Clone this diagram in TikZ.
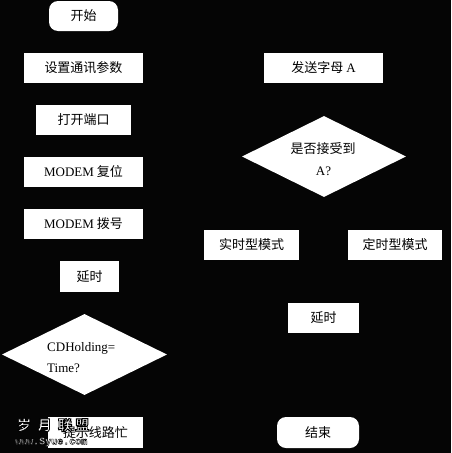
\documentclass[tikz,border=0pt]{standalone}
\usepackage{fontspec}
\setmainfont{Liberation Serif}
\setmonofont{Liberation Mono}
\newfontfamily\cjk{Noto Sans CJK SC}
\usetikzlibrary{shapes.geometric}
\definecolor{bg}{HTML}{050505}
\newcommand{\outlinedtext}[2][0.9]{\special{pdf:code q 2 Tr #1 w 0 G}#2\special{pdf:code Q}}
\tikzset{
  x=1pt, y=-1pt,
  box/.style={fill=white, inner sep=0pt, font=\fontsize{13}{15}\selectfont\cjk, text=black},
  term/.style={box, rounded corners=9pt},
  dec/.style={diamond, fill=white, inner sep=0pt, text=black, aspect=2},
  wm/.style={inner sep=0pt, anchor=west, text=white},
}
\begin{document}
\begin{tikzpicture}
\fill[bg] (0,0) rectangle (451,453);
\useasboundingbox (0,0) rectangle (451,453);
% left column
\node[term, minimum width=69pt, minimum height=30pt] (start) at (83.5,16) {开始};
\node[box, minimum width=119pt, minimum height=30pt] (param) at (83.5,68) {设置通讯参数};
\node[box, minimum width=95pt, minimum height=30pt] (open) at (83.5,120) {打开端口};
\node[box, minimum width=119pt, minimum height=30pt] (reset) at (83.5,172) {{\rmfamily MODEM} 复位};
\node[box, minimum width=119pt, minimum height=30pt] (dial) at (83.5,224) {{\rmfamily MODEM} 拨号};
\node[box, minimum width=59pt, minimum height=31pt] (delayL) at (89.5,276.5) {延时};
\node[dec, minimum width=165pt, minimum height=81pt] (cd) at (84.5,354.5) {};
\node[inner sep=0pt, anchor=west, font=\fontsize{13}{15}\selectfont, text=black] (cdt1) at (47,348) {CDHolding=};
\node[inner sep=0pt, anchor=west, font=\fontsize{13}{15}\selectfont, text=black] (cdt2) at (47,368.5) {Time?};
\node[box, minimum width=95pt, minimum height=31pt] (busy) at (95.5,432.5) {提示线路忙};
% right column
\node[box, minimum width=119pt, minimum height=30pt] (send) at (323.5,68) {发送字母 {\rmfamily A}};
\node[dec, minimum width=164pt, minimum height=81pt] (recv) at (324,156.5) {};
\node[inner sep=0pt, font=\fontsize{13}{15}\selectfont\cjk, text=black] (rt1) at (323,149) {是否接受到};
\node[inner sep=0pt, font=\fontsize{13}{15}\selectfont, text=black] (rt2) at (323.5,171) {A?};
\node[box, minimum width=95pt, minimum height=30pt] (real) at (251.5,245) {实时型模式};
\node[box, minimum width=94pt, minimum height=30pt] (timed) at (395,245) {定时型模式};
\node[box, minimum width=71pt, minimum height=30pt] (delayR) at (323.5,318) {延时};
\node[term, minimum width=82pt, minimum height=31pt] (end) at (318,432.5) {结束};
% watermark
\node[wm, font=\fontsize{14}{16}\selectfont\cjk\bfseries] (wa) at (17,425) {\outlinedtext{岁\ \ 月\ \ 联\ 盟}};
\node[wm, font=\fontsize{10}{12}\selectfont\ttfamily\bfseries] (wb) at (15,442) {\outlinedtext[0.4]{www.Syue.com}};
\end{tikzpicture}
\end{document}
